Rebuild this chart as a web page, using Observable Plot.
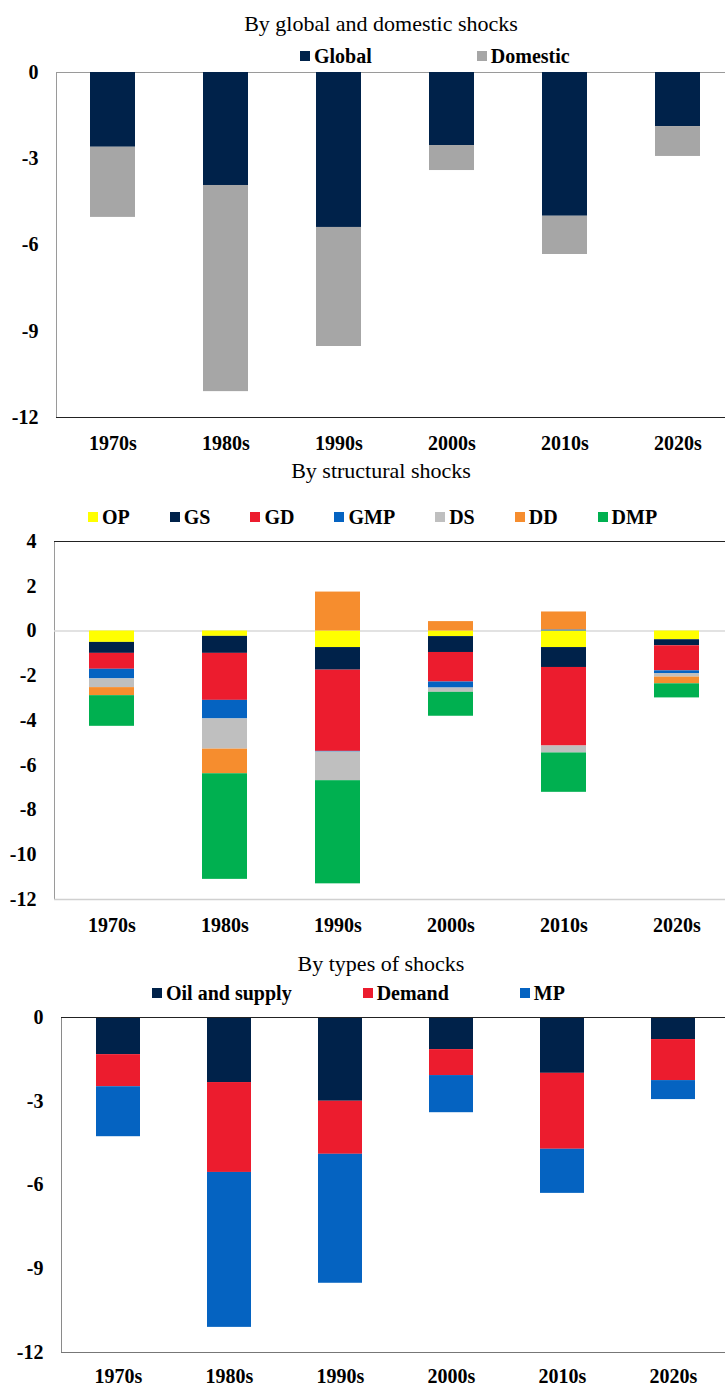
<!DOCTYPE html>
<html>
<head>
<meta charset="utf-8">
<script src="https://cdn.jsdelivr.net/npm/d3@7"></script>
<script src="https://cdn.jsdelivr.net/npm/@observablehq/plot@0.6"></script>
<style>
  html, body { margin: 0; padding: 0; background: white; }
  body { position: relative; width: 725px; height: 1386px; overflow: hidden; font-family: "Liberation Serif", "Times New Roman", "DejaVu Serif", serif; }
  .title { position: absolute; left: 0; width: 762px; text-align: center; font-size: 22px; line-height: 22px; color: #000; }
  .legend { position: absolute; display: flex; align-items: center; font-size: 20px; line-height: 20px; font-weight: bold; color: #000; white-space: nowrap; }
  .legend .item { display: flex; align-items: center; }
  .legend .sw { width: 10px; height: 10px; margin-right: 4px; display: inline-block; }
  .chart { position: absolute; left: 0; }
  .chart svg text { font-family: "Liberation Serif", "Times New Roman", "DejaVu Serif", serif; }
</style>
</head>
<body>
<script>
// ---------- data ----------
const decades = ["1970s", "1980s", "1990s", "2000s", "2010s", "2020s"];

// Panel 1: by global and domestic shocks
const panel1Series = ["Global", "Domestic"];
const globalShocks   = [-2.60, -3.93, -5.39, -2.54, -5.00, -1.88];
const domesticShocks = [-2.44, -7.17, -4.14, -0.87, -1.33, -1.04];
const panel1Ticks = [0, -3, -6, -9, -12];

// Panel 2: by structural shocks
const panel2Series = ["OP", "GS", "GD", "GMP", "DS", "DD", "DMP"];
const OP  = [-0.51, -0.24, -0.74, -0.25, -0.74, -0.39];
const GS  = [-0.49, -0.76, -1.01, -0.71, -0.89, -0.27];
const GD  = [-0.71, -2.10, -3.63, -1.32, -3.51, -1.12];
const GMP = [-0.43, -0.83, -0.03, -0.27,  0.05, -0.12];
const DS  = [-0.39, -1.35, -1.28, -0.19, -0.31, -0.16];
const DD  = [-0.36, -1.10,  1.74,  0.42,  0.80, -0.30];
const DMP = [-1.37, -4.72, -4.61, -1.07, -1.76, -0.63];
const panel2Ticks = [4, 2, 0, -2, -4, -6, -8, -10, -12];

// Panel 3: by types of shocks
const panel3Series = ["Oil and supply", "Demand", "MP"];
const oilSupply = [-1.33, -2.33, -3.00, -1.15, -2.00, -0.79];
const demand    = [-1.15, -3.22, -1.90, -0.93, -2.72, -1.47];
const mp        = [-1.79, -5.55, -4.62, -1.33, -1.58, -0.68];
const panel3Ticks = [0, -3, -6, -9, -12];

// ---------- colours ----------
const navy = "#00224A", red = "#EC1C2E", blue = "#0563C1";
const panel1Colors = [navy, "#A6A6A6"];
const panel2Colors = ["#FFFF00", navy, red, blue, "#BFBFBF", "#F68D2E", "#00B050"];
const panel3Colors = [navy, red, blue];

const serifStack = "'Liberation Serif', 'Times New Roman', 'DejaVu Serif', serif";

function toLong(series, values) {
  const rows = [];
  series.forEach((s, j) => decades.forEach((d, i) => rows.push({decade: d, series: s, value: values[j][i]})));
  return rows;
}

function addTitle(text, top) {
  const t = document.createElement("div");
  t.className = "title";
  t.style.top = top + "px";
  t.textContent = text;
  document.body.appendChild(t);
}

function addLegend(series, colors, left, top, gap) {
  const l = document.createElement("div");
  l.className = "legend";
  l.style.left = left + "px";
  l.style.top = top + "px";
  l.style.gap = gap + "px";
  series.forEach((s, i) => {
    const it = document.createElement("div");
    it.className = "item";
    const sw = document.createElement("span");
    sw.className = "sw";
    sw.style.background = colors[i];
    it.appendChild(sw);
    it.appendChild(document.createTextNode(s));
    l.appendChild(it);
  });
  document.body.appendChild(l);
}

function addChart(opts) {
  const data = toLong(opts.series, opts.values);
  const chart = Plot.plot({
    width: 745,
    height: opts.height,
    marginTop: 12,
    marginBottom: opts.marginBottom,
    marginLeft: opts.marginLeft,
    marginRight: opts.marginRight,
    style: {fontFamily: serifStack, fontSize: "20px", fontWeight: "bold", color: "#000", background: "transparent", maxWidth: "none"},
    x: {domain: decades, paddingInner: 0.6, paddingOuter: 0.3, label: null},
    y: {domain: opts.yDomain, label: null},
    color: {domain: opts.series, range: opts.colors},
    marks: [
      Plot.frame({stroke: opts.frameStroke}),
      ...opts.under,
      Plot.barY(data, {x: "decade", y: "value", fill: "series"}),
      ...opts.over,
      Plot.axisX({tickSize: 0, tickPadding: opts.xPad, label: null, fontFamily: serifStack}),
      Plot.axisY({ticks: opts.ticks, tickSize: 0, tickPadding: 18, label: null, fontFamily: serifStack, tickFormat: d => String(d)})
    ]
  });
  const wrap = document.createElement("div");
  wrap.className = "chart";
  wrap.style.top = opts.top + "px";
  wrap.appendChild(chart);
  document.body.appendChild(wrap);
}

// ---------- panel 1 ----------
addTitle("By global and domestic shocks", 13);
addLegend(panel1Series, panel1Colors, 300, 46, 105);
addChart({
  top: 60, height: 402, marginBottom: 45, marginLeft: 56, marginRight: 10, xPad: 18,
  series: panel1Series, values: [globalShocks, domesticShocks], colors: panel1Colors,
  yDomain: [-12, 0], ticks: panel1Ticks, frameStroke: "#9a9a9a",
  under: [],
  over: [Plot.ruleY([-12], {stroke: "#222"})]
});

// ---------- panel 2 ----------
addTitle("By structural shocks", 460);
addLegend(panel2Series, panel2Colors, 88, 507, 40);
addChart({
  top: 529, height: 415, marginBottom: 45, marginLeft: 54, marginRight: 11, xPad: 18,
  series: panel2Series, values: [OP, GS, GD, GMP, DS, DD, DMP], colors: panel2Colors,
  yDomain: [-12, 4], ticks: panel2Ticks, frameStroke: "#9a9a9a",
  under: [Plot.ruleY([0], {stroke: "#d9d9d9", strokeWidth: 1.5})],
  over: [Plot.ruleY([4], {stroke: "#222"}), Plot.ruleY([-12], {stroke: "#d0d0d0", strokeWidth: 1.5})]
});

// ---------- panel 3 ----------
addTitle("By types of shocks", 953);
addLegend(panel3Series, panel3Colors, 152, 983, 71);
addChart({
  top: 1005, height: 381, marginBottom: 34, marginLeft: 61, marginRight: 15, xPad: 16,
  series: panel3Series, values: [oilSupply, demand, mp], colors: panel3Colors,
  yDomain: [-12, 0], ticks: panel3Ticks, frameStroke: "#8a8a8a",
  under: [],
  over: [Plot.ruleY([0], {stroke: "#222"}), Plot.ruleY([-12], {stroke: "#777"})]
});
</script>
</body>
</html>
